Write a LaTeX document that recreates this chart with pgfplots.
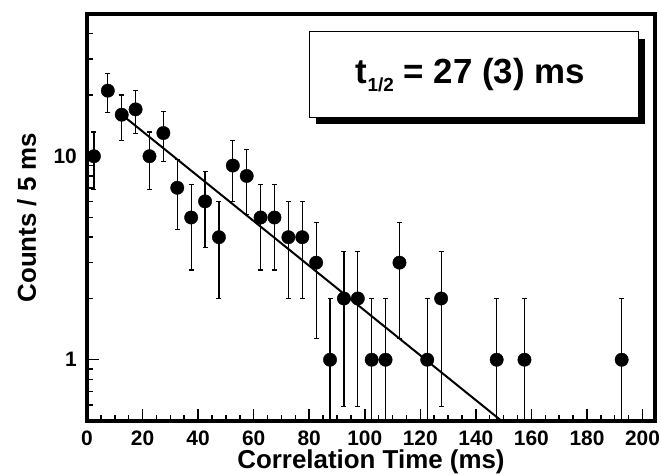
\documentclass[border=0pt]{standalone}
\usepackage{fontspec}
\setmainfont{Liberation Sans}
\usepackage{pgfplots}
\pgfplotsset{compat=1.18}
\usepackage{pgfplotstable}

% counts per 5 ms bin: centre, counts, +err, -err
\pgfplotstableread{
x      y   ep    em
2.5    10  3.16  3.16
7.5    21  4.58  4.58
12.5   16  4.00  4.00
17.5   17  4.12  4.12
22.5   10  3.16  3.16
27.5   13  3.61  3.61
32.5   7   2.65  2.65
37.5   5   2.24  2.24
42.5   6   2.45  2.45
47.5   4   2.00  2.00
52.5   9   3.00  3.00
57.5   8   2.83  2.83
62.5   5   2.24  2.24
67.5   5   2.24  2.24
72.5   4   2.00  2.00
77.5   4   2.00  2.00
82.5   3   1.73  1.73
87.5   1   1.00  0.99
92.5   2   1.41  1.41
97.5   2   1.41  1.41
102.5  1   1.00  0.99
107.5  1   1.00  0.99
112.5  3   1.73  1.73
122.5  1   1.00  0.99
127.5  2   1.41  1.41
147.5  1   1.00  0.99
157.5  1   1.00  0.99
192.5  1   1.00  0.99
}\counts

\begin{document}
\begin{tikzpicture}
\useasboundingbox (-87bp,-54bp) rectangle (574bp,421bp);
\begin{axis}[
  scale only axis,
  width=568bp, height=407bp,
  ymode=log,
  xmin=0, xmax=204.5,
  ymin=0.5, ymax=50,
  axis line style={line width=3.5bp},
  tick align=inside,
  xtick pos=bottom, ytick pos=left,
  xtick={0,20,40,60,80,100,120,140,160,180,200},
  xticklabels={0,20,40,60,80,100,120,140,160,180,200},
  minor x tick num=3,
  ytick={1,10},
  yticklabels={1,10},
  minor ytick={0.6,0.7,0.8,0.9,2,3,4,5,6,7,8,9,20,30,40,50},
  major tick length=12bp,
  minor tick length=6.5bp,
  every tick/.style={black, line width=1.5bp},
  ticklabel style={font=\fontsize{21}{24}\selectfont\bfseries, inner sep=0pt},
  xticklabel style={anchor=base, yshift=-24bp},
  yticklabel style={anchor=east, xshift=-10bp},
  xlabel={Correlation Time (ms)},
  ylabel={Counts / 5 ms},
  label style={font=\fontsize{26}{30}\selectfont\bfseries, inner sep=0pt},
  xlabel style={at={(axis description cs:0.5,-0.1179)}, anchor=base},
  ylabel style={at={(axis description cs:-0.0898,0.5)}, anchor=base},
]
\addplot[only marks, mark=*, mark size=6.7bp, black,
  error bars/.cd, y dir=both, y explicit,
  error bar style={line width=1.2bp},
  error mark options={rotate=90, mark size=2.5bp, line width=1.2bp}]
  table[x=x, y=y, y error plus=ep, y error minus=em] {\counts};
% exponential fit, t_1/2 = 27 ms
\addplot[black, line width=2bp] coordinates {(14.3,15.3) (149.3,0.5)};

\fill[black, shift={(7bp,-7bp)}] (rel axis cs:0.3914,0.7469) rectangle (rel axis cs:0.9706,0.9566);
\draw[line width=1bp, fill=white] (rel axis cs:0.3914,0.7469) rectangle (rel axis cs:0.9706,0.9566);
\node[font=\fontsize{35}{40}\selectfont\bfseries, anchor=base, inner sep=0pt]
  at (rel axis cs:0.675,0.8297)
  {t\raisebox{-8bp}{\fontsize{19}{20}\selectfont 1/2} = 27 (3) ms};
\end{axis}
\end{tikzpicture}
\end{document}
